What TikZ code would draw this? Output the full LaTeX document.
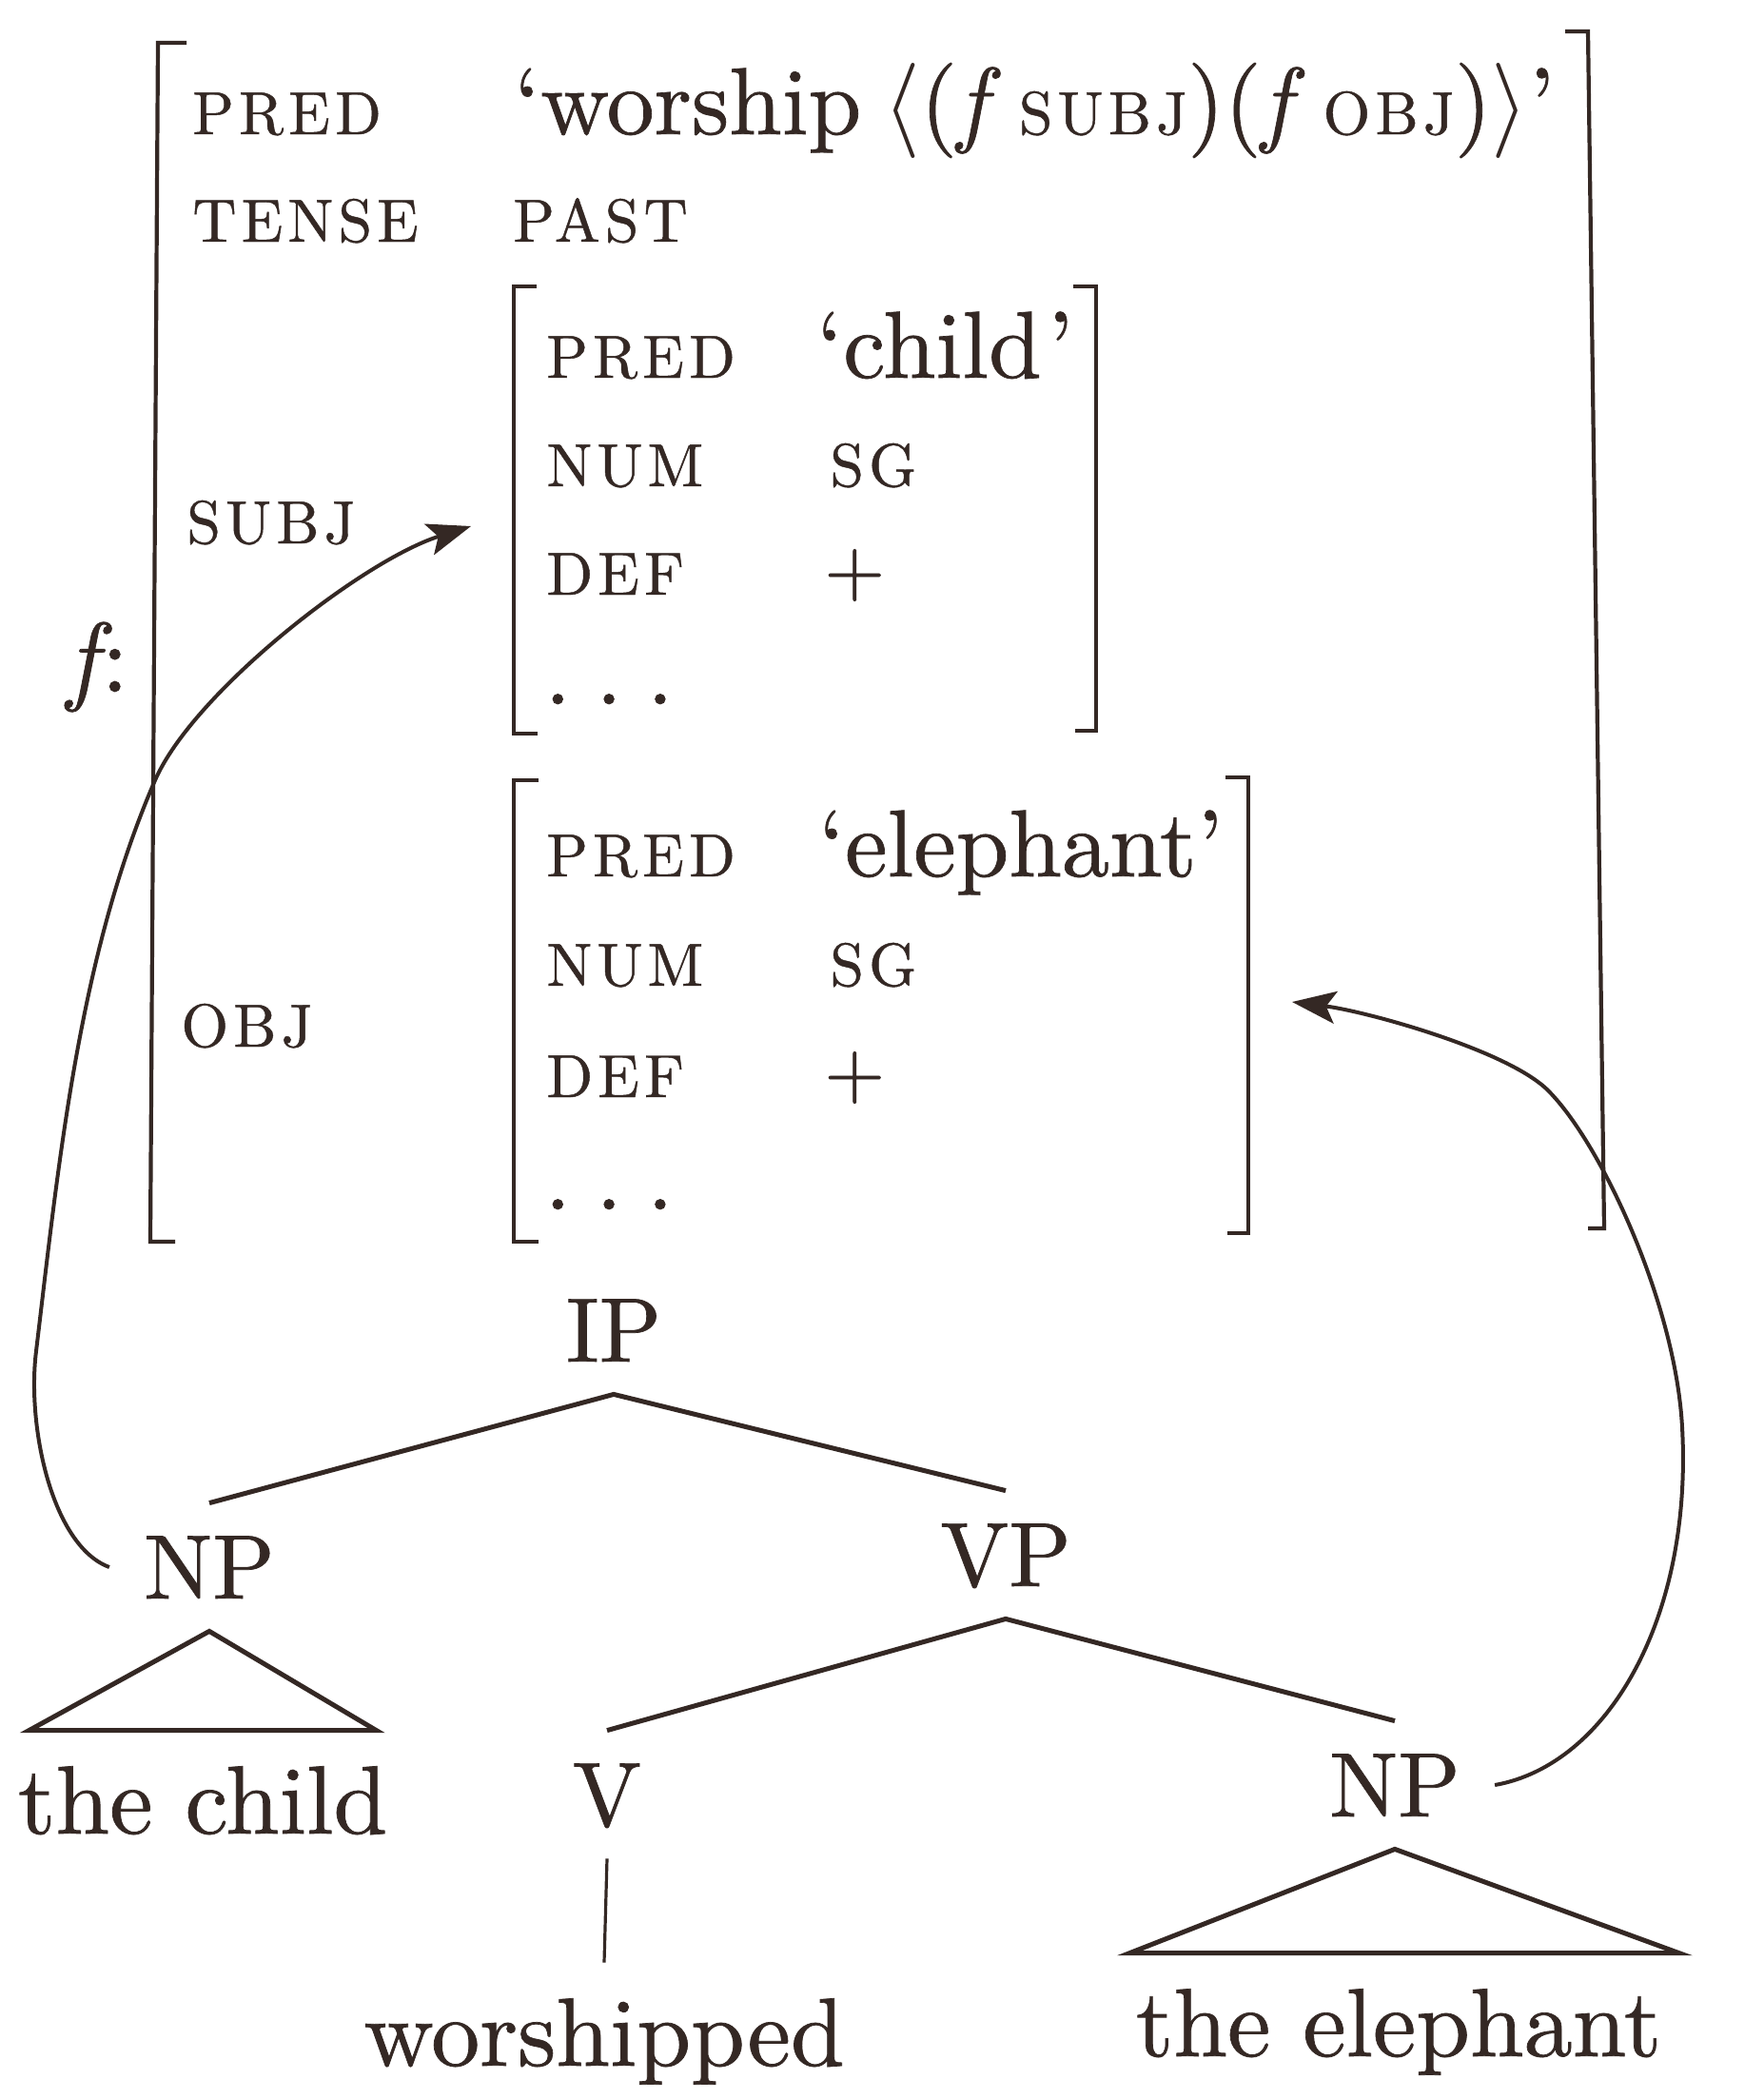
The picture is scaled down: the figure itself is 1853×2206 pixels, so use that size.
\RequirePackage{fix-cm}
\documentclass[tikz,border=0pt]{standalone}
\usepackage{fontspec}
\newfontfamily\attrfont{lmroman10-regular.otf}[LetterSpace=8,FakeBold=0.7]
\newfontfamily\valfont{lmroman10-regular.otf}[FakeBold=0.7]
\newfontfamily\itfont{lmroman10-italic.otf}[FakeBold=0.7]
\newcommand\attrsz{\attrfont\fontsize{32}{38}\selectfont}
\usetikzlibrary{arrows.meta}
\definecolor{ink}{RGB}{52,40,36}
\begin{document}
\begin{tikzpicture}[x=0.5pt,y=-0.5pt,color=ink,
  every node/.style={inner sep=0pt,text=ink},
  attr/.style={anchor=base west,font=\attrsz},
  val/.style={anchor=base west,font=\valfont\fontsize{50}{60}\selectfont},
  plus/.style={anchor=base west,font=\valfont\fontsize{41}{50}\selectfont},
  cat/.style={anchor=base,font=\valfont\fontsize{48}{56}\selectfont,text height=33pt,text depth=0pt,inner xsep=18pt,inner ysep=17pt},
  word/.style={anchor=base,font=\valfont\fontsize{51}{60}\selectfont,text height=35pt,text depth=0pt,inner xsep=0pt,inner ysep=19pt},
  brk/.style={line width=2.1pt},
  tree/.style={line width=2.5pt},
  link/.style={line width=2pt,-{Stealth[length=23pt,width=17pt,inset=5pt]}}]
\fill[white] (0,0) rectangle (1853,2206);
\useasboundingbox (0,0) rectangle (1853,2206);

% outer f-structure brackets
\draw[brk] (196,45) -- (166,45) -- (158,1305) -- (184,1305);
\draw[brk] (1645,33) -- (1669,33) -- (1686,1291) -- (1669,1291);
% SUBJ brackets
\draw[brk] (564,301) -- (540,301) -- (540,771) -- (565,771);
\draw[brk] (1128,301) -- (1152,301) -- (1152,768) -- (1130,768);
% OBJ brackets
\draw[brk] (566,820) -- (540,820) -- (540,1305) -- (566,1305);
\draw[brk] (1288,817) -- (1312,817) -- (1312,1296) -- (1290,1296);

\node[anchor=base west,font=\valfont\fontsize{52}{60}\selectfont] (fcolon) at (70,727) {{\itfont f}\kern2pt:};

\node[attr] (pred) at (202,141) {PRED};
\node[val] (worship) at (540,141) {‘worship};
\node[val] (args) at (928,141) {$\langle$({\itfont f}\kern17pt{\attrsz SUBJ})({\itfont f}\kern17pt{\attrsz OBJ})$\rangle$’};
\node[attr] (tense) at (202,254) {TENSE};
\node[attr] (past) at (539,254) {PAST};

\node[attr] (subj) at (196,571) {SUBJ};
\node[attr] (spred) at (574,397) {PRED};
\node[val] (schild) at (858,397) {‘child\kern3pt’};
\node[attr] (snum) at (574,511) {NUM};
\node[attr] (ssg) at (872,511) {SG};
\node[attr] (sdef) at (574,625) {DEF};
\node[plus] (splus) at (866,625) {+};
\node[val] (sdots) at (572,740) {.\kern13pt.\kern13pt.};

\node[attr] (obj) at (190,1100) {OBJ};
\node[attr] (opred) at (574,921) {PRED};
\node[val] (oeleph) at (860,921) {‘elephant’};
\node[attr] (onum) at (574,1036) {NUM};
\node[attr] (osg) at (872,1036) {SG};
\node[attr] (odef) at (574,1153) {DEF};
\node[plus] (oplus) at (866,1153) {+};
\node[val] (odots) at (572,1271) {.\kern13pt.\kern13pt.};

% tree
\node[cat] (ip) at (645,1431) {IP};
\node[cat] (npl) at (220,1680) {NP};
\node[cat] (vp) at (1057,1667) {VP};
\node[cat] (v) at (638,1919) {V};
\node[cat] (npr) at (1466,1909) {NP};
\node[word] (child) at (213,1927) {the child};
\node[word] (worshipped) at (635,2171) {worshipped};
\node[word] (eleph) at (1470,2161) {the elephant};

\draw[tree] (npl.north) -- (ip.south) -- (vp.north);
\draw[tree] (v.north) -- (vp.south) -- (npr.north);
\draw[line width=1.6pt] (v.south) -- (worshipped.north);
\draw[tree,line join=miter] (npl.south) -- ([xshift=-6pt]child.north east) -- ([xshift=6pt]child.north west) -- cycle;
\draw[tree,line join=miter] (npr.south) -- ([xshift=9pt]eleph.north east) -- ([xshift=-3pt]eleph.north west) -- cycle;

% links
\coordinate (subjin) at (495,553);
\coordinate (objin) at (1358,1053);
\draw[link] (npl.west) .. controls (55,1625) and (28,1500) .. (38,1420)
  .. controls (62,1220) and (83,1004) .. (163,820)
  .. controls (203,728) and (381,589) .. (subjin);
\draw[link] (npr.east) .. controls (1690,1855) and (1779,1700) .. (1768,1500)
  .. controls (1761,1370) and (1683,1202) .. (1627,1146)
  .. controls (1585,1104) and (1437,1063) .. (objin);
\end{tikzpicture}
\end{document}
